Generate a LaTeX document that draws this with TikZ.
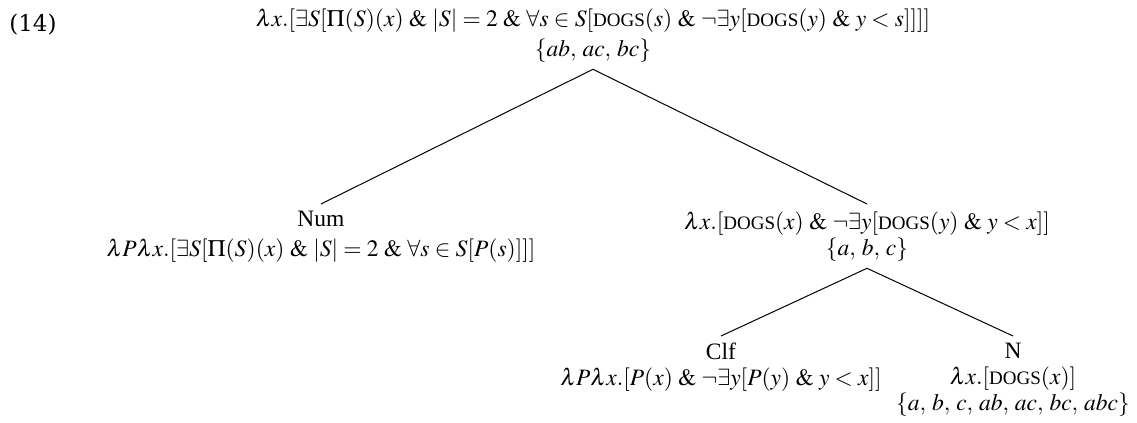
\documentclass[tikz,border=0pt]{standalone}
\usepackage{mathptmx}
\usepackage[no-math]{fontspec}
\setmainfont{Liberation Serif}
\newfontfamily\exfont{DejaVu Serif}
\newcommand{\dogs}{\textrm{\fontsize{9.5}{10}\selectfont DOGS}}
\newcommand{\conj}{\mathrel{\&}}
\newcommand{\sep}{,\:}

\begin{document}
\begin{tikzpicture}[x=0.5pt, y=-0.5pt,
      every node/.style={font=\fontsize{11.75}{15}\selectfont},
      sem/.style={anchor=north, align=center, inner xsep=0pt, inner ysep=3.5pt},
      semtight/.style={sem, font=\fontsize{11.75}{13}\selectfont},
      branch/.style={draw=black, line width=0.5pt}]
    \useasboundingbox (0,0) rectangle (1137,423);
    % ---- example number
    \node[anchor=base west, inner sep=0pt, font=\exfont\fontsize{11.5}{13}\selectfont] (exnum) at (9,32) {(14)};
    % ---- root
    \node[sem] (root) at (593,1)
      {$\lambda x.[\exists S[\Pi(S)(x) \conj |S| = 2 \conj \forall s \in S[\dogs(s) \conj \neg\exists y[\dogs(y) \conj y < s]]]]$\\
       $\{ab\sep ac\sep bc\}$};
    % ---- daughters of the root
    \node[sem] (num) at (321,204)
      {Num\\ $\lambda P\lambda x.[\exists S[\Pi(S)(x) \conj |S| = 2 \conj \forall s \in S[P(s)]]]$};
    \node[semtight] (np) at (867,204)
      {$\lambda x.[\dogs(x) \conj \neg\exists y[\dogs(y) \conj y < x]]$\\ $\{a\sep b\sep c\}$};
    % ---- daughters of the right node
    \node[semtight] (clf) at (721,336)
      {Clf\\ $\lambda P\lambda x.[P(x) \conj \neg\exists y[P(y) \conj y < x]]$};
    \node[semtight] (n) at (1013,336)
      {N\\ $\lambda x.[\dogs(x)]$\\ $\{a\sep b\sep c\sep ab\sep ac\sep bc\sep abc\}$};
    % ---- branches
    \draw[branch] (root.south) -- (num.north);
    \draw[branch] (root.south) -- (np.north);
    \draw[branch] (np.south) -- (clf.north);
    \draw[branch] (np.south) -- (n.north);
  \end{tikzpicture}
\end{document}
